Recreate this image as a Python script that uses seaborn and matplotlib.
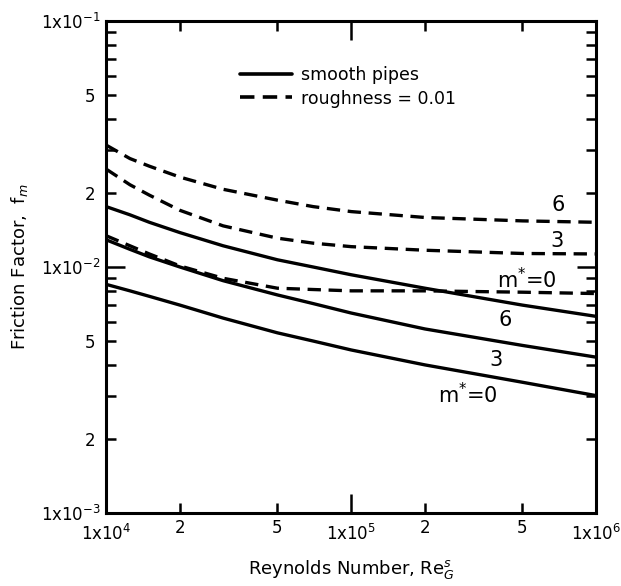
import numpy as np
import pandas as pd
import seaborn as sns
import matplotlib.pyplot as plt
from matplotlib.lines import Line2D
from matplotlib.ticker import FixedLocator, FuncFormatter, LogLocator

re_g = [1e4, 1.25e4, 1.5e4, 2e4, 3e4, 5e4, 7e4, 1e5, 2e5, 5e5, 1e6]

# smooth pipes
smooth_m0 = [0.0085, 0.0080, 0.0076, 0.0070, 0.0062, 0.0054, 0.0050, 0.0046, 0.0040, 0.0034, 0.0030]
smooth_m3 = [0.0129, 0.0118, 0.0110, 0.0100, 0.0088, 0.0077, 0.0071, 0.0065, 0.0056, 0.0048, 0.0043]
smooth_m6 = [0.0176, 0.0163, 0.0152, 0.0138, 0.0122, 0.0107, 0.0100, 0.0093, 0.0082, 0.0070, 0.0063]

# roughness = 0.01
rough_m0 = [0.0134, 0.0122, 0.0113, 0.0101, 0.0090, 0.0082, 0.0081, 0.0080, 0.0080, 0.0079, 0.0078]
rough_m3 = [0.0250, 0.0216, 0.0196, 0.0170, 0.0147, 0.0131, 0.0125, 0.0121, 0.0117, 0.01135, 0.0113]
rough_m6 = [0.0313, 0.0276, 0.0257, 0.0232, 0.0207, 0.0187, 0.0176, 0.0168, 0.0159, 0.0154, 0.0152]

curves = {
    ("smooth", "m0"): smooth_m0,
    ("smooth", "m3"): smooth_m3,
    ("smooth", "m6"): smooth_m6,
    ("rough", "m0"): rough_m0,
    ("rough", "m3"): rough_m3,
    ("rough", "m6"): rough_m6,
}

rows = []
for (surface, m), vals in curves.items():
    for r, f in zip(re_g, vals):
        rows.append({"Re": r, "f": f, "surface": surface, "curve": surface + m})
df = pd.DataFrame(rows)

# curve labels: (text, Re, f)
curve_labels = [
    ("6", 7.0e5, 0.0179),
    ("3", 6.9e5, 0.0127),
    ("m$^{*}$=0", 5.2e5, 0.0089),
    ("6", 4.25e5, 0.0061),
    ("3", 3.9e5, 0.0042),
    ("m$^{*}$=0", 3.0e5, 0.00302),
]

sns.set_style("ticks")
plt.rcParams["font.family"] = ["DejaVu Sans"]
plt.rcParams["mathtext.fontset"] = "dejavusans"
plt.rcParams["text.color"] = "black"
plt.rcParams["axes.labelcolor"] = "black"
plt.rcParams["xtick.color"] = "black"
plt.rcParams["ytick.color"] = "black"

fig = plt.figure(figsize=(6.21, 5.86), dpi=100)
ax = fig.add_axes([0.171, 0.1246, 0.789, 0.8395])

dash = (4, 2.3)
sns.lineplot(data=df, x="Re", y="f", units="curve", estimator=None,
             style="surface", dashes={"smooth": "", "rough": dash},
             color="black", linewidth=2.4, legend=False, ax=ax)

ax.set_xscale("log")
ax.set_yscale("log")
ax.set_xlim(1e4, 1e6)
ax.set_ylim(1e-3, 1e-1)

# ticks
ax.xaxis.set_major_locator(FixedLocator([1e4, 1e5, 1e6]))
ax.xaxis.set_minor_locator(FixedLocator([2e4, 5e4, 2e5, 5e5]))
ax.yaxis.set_major_locator(FixedLocator([1e-3, 1e-2, 1e-1]))
ax.yaxis.set_minor_locator(LogLocator(base=10, subs=np.arange(2, 10)))


def major_fmt(v, pos):
    return "1x10$^{%d}$" % int(round(np.log10(v)))


def minor_fmt(v, pos):
    d = int(round(v / 10 ** np.floor(np.log10(v))))
    return str(d) if d in (2, 5) else ""


ax.xaxis.set_major_formatter(FuncFormatter(major_fmt))
ax.xaxis.set_minor_formatter(FuncFormatter(minor_fmt))
ax.yaxis.set_major_formatter(FuncFormatter(major_fmt))
ax.yaxis.set_minor_formatter(FuncFormatter(minor_fmt))

ax.tick_params(which="both", direction="in", top=True, right=True,
               width=1.8, color="black", labelcolor="black", labelsize=12)
ax.tick_params(which="major", length=14)
ax.tick_params(which="minor", length=7)
ax.tick_params(axis="x", which="major", pad=8)
ax.tick_params(axis="x", which="minor", pad=4)
ax.tick_params(axis="y", which="major", pad=4)
ax.tick_params(axis="y", which="minor", pad=8)

for s in ax.spines.values():
    s.set_linewidth(2.2)
    s.set_color("black")

ax.set_xlabel("Reynolds Number, Re$_G^s$", fontsize=13, labelpad=10)
ax.set_ylabel("Friction Factor,  f$_m$", fontsize=13, labelpad=8)

for txt, x, y in curve_labels:
    ax.text(x, y, txt, fontsize=15, ha="center", va="center")

handles = [Line2D([], [], color="black", lw=2.6),
           Line2D([], [], color="black", lw=2.6, dashes=dash)]
ax.legend(handles, ["smooth pipes", "roughness = 0.01"], loc="upper left",
          bbox_to_anchor=(0.273, 0.908), frameon=False, fontsize=12.5,
          handlelength=3.0, handletextpad=0.5, labelspacing=0.3,
          borderpad=0, borderaxespad=0)

fig.savefig("out.png", dpi=100)
